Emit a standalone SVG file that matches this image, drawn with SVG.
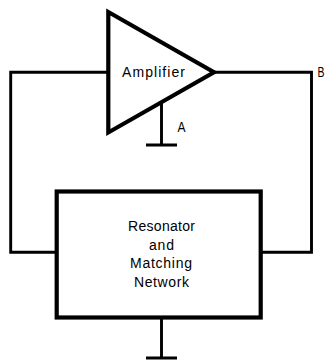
<svg xmlns="http://www.w3.org/2000/svg" width="326" height="360" viewBox="0 0 326 360">
<style>
.n{fill:#fff;stroke:#000;stroke-width:4.2;stroke-linejoin:miter;stroke-miterlimit:10}
.c{fill:none;stroke:#000;stroke-width:2.9;stroke-linejoin:miter}
text{font-family:"Liberation Sans",Arial,sans-serif;font-size:14px;fill:#000;text-anchor:middle}
</style>
<rect width="326" height="360" fill="#fff"/>
<g id="connectors">
<path class="c" d="M108 72.300H10.700V252.300H57"/>
<path class="c" d="M213 72.300H311.500V252.300H261"/>
<path class="c" d="M161.500 103V145M146 145H177"/>
<path class="c" d="M161.500 318V358M146 358H177"/>
</g>
<g id="amplifier">
<path class="n" d="M108.300 12L214 72.300L108.300 132.500Z"/>
<text x="153.500" y="77" textLength="63">Amplifier</text>
</g>
<g id="resonator">
<rect class="n" x="56.700" y="191.500" width="204" height="126"/>
<text x="161.500" y="231" textLength="67">Resonator</text>
<text x="161.500" y="250" textLength="25">and</text>
<text x="161" y="268" textLength="62">Matching</text>
<text x="161.500" y="287" textLength="55">Network</text>
</g>
<g id="label-a"><text x="181.500" y="131.500" textLength="8" lengthAdjust="spacingAndGlyphs">A</text></g>
<g id="label-b"><text x="321" y="77" textLength="7" lengthAdjust="spacingAndGlyphs">B</text></g>
</svg>
